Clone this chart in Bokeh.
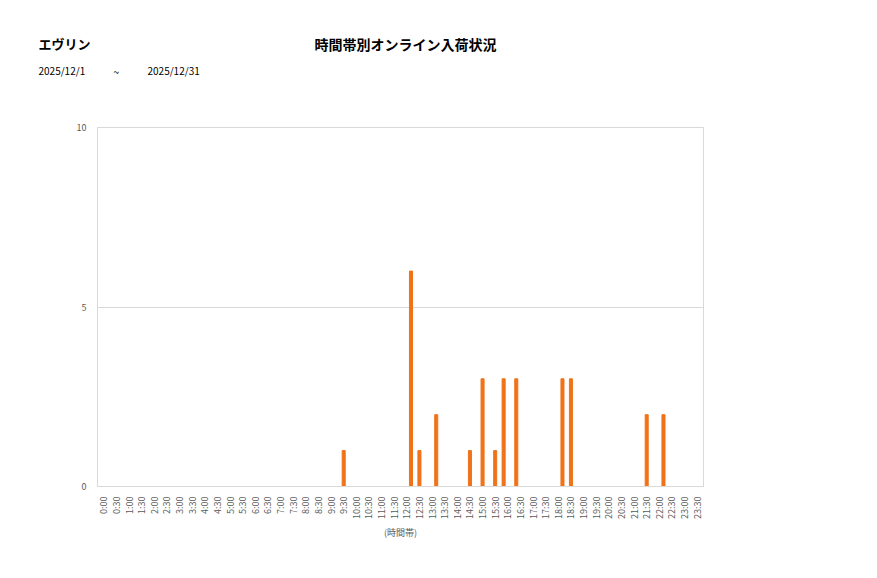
from bokeh.plotting import figure
from bokeh.models import ColumnDataSource, FactorRange, Range1d, FixedTicker
from bokeh.layouts import column
from bokeh.core.properties import value
from bokeh.transform import dodge
from bokeh.embed import file_html
from bokeh.resources import INLINE
import math

# ---- data ----
time_slots = [f"{h}:{m:02d}" for h in range(24) for m in (0, 30)]
series_a = [0] * 48
series_b = [0] * 48
series_c = [0] * 48
# values
vals_a = {"16:00": 3, "16:30": 3}
vals_b = {"9:30": 1, "12:30": 1, "14:30": 1, "15:00": 3, "15:30": 1, "18:30": 3, "21:30": 2}
vals_c = {"12:00": 6, "13:00": 2, "18:00": 3, "22:00": 2}
for k, v in vals_a.items():
    series_a[time_slots.index(k)] = v
for k, v in vals_b.items():
    series_b[time_slots.index(k)] = v
for k, v in vals_c.items():
    series_c[time_slots.index(k)] = v
y_ticks = [0, 5, 10]

title_left = "エヴリン"
title_center = "時間帯別オンライン入荷状況"
date_from = "2025/12/1"
date_sep = "~"
date_to = "2025/12/31"
x_label = "(時間帯)"

JP = "Noto Sans CJK JP"
BAR = "#f07219"
GRID = "#d9d9d9"
TXT = "#595959"

W = 860
HEAD = 100

# ---- header with titles ----
head = figure(width=W, height=HEAD, output_backend="svg", toolbar_location=None,
              x_range=Range1d(0, W), y_range=Range1d(HEAD, 0),
              min_border=0, min_border_left=0, min_border_right=0,
              min_border_top=0, min_border_bottom=0)
head.frame_align = False
head.axis.visible = False
head.grid.visible = False
head.outline_line_color = None


def htext(text, x, y, size, bold=False, align="left"):
    head.text(x=[x], y=[y], text=[text], text_font=value(JP), text_font_size=size,
              text_font_style="bold" if bold else "normal", text_align=align,
              text_baseline="middle", text_color="black")

htext(title_left, 38, 43, "13px", bold=True)
htext(title_center, 405, 43, "14px", bold=True, align="center")
htext(date_from, 38, 70, "10px")
htext(date_sep, 113, 71, "10px")
htext(date_to, 147, 70, "10px")

# ---- chart ----
src = ColumnDataSource(dict(x=time_slots, a=series_a, b=series_b, c=series_c))

p = figure(width=W, height=560 - HEAD, output_backend="svg", toolbar_location=None,
           x_range=FactorRange(*time_slots, range_padding=0), y_range=Range1d(0, 10),
           min_border_left=97, min_border_right=157, min_border_top=127 - HEAD,
           min_border_bottom=74)
p.frame_align = False

w = 0.24
p.vbar(x=dodge("x", -0.33, range=p.x_range), top="a", width=w, source=src, color=BAR)
p.vbar(x=dodge("x", 0.0, range=p.x_range), top="b", width=w, source=src, color=BAR)
p.vbar(x=dodge("x", 0.33, range=p.x_range), top="c", width=w, source=src, color=BAR)

p.outline_line_color = GRID
p.xgrid.grid_line_color = None
p.ygrid.grid_line_color = GRID
p.ygrid.ticker = FixedTicker(ticks=y_ticks)
p.yaxis.ticker = FixedTicker(ticks=y_ticks)

for ax in (p.xaxis[0], p.yaxis[0]):
    ax.axis_line_color = GRID
    ax.major_tick_line_color = None
    ax.minor_tick_line_color = None
    ax.major_label_text_font = JP
    ax.major_label_text_font_size = "9px"
    ax.major_label_text_color = TXT
p.yaxis.major_label_standoff = 5
p.xaxis.major_label_orientation = math.pi / 2
p.xaxis.major_label_standoff = 4
p.xaxis.axis_label = x_label
p.xaxis.axis_label_text_font = JP
p.xaxis.axis_label_text_font_size = "9px"
p.xaxis.axis_label_text_font_style = "normal"
p.xaxis.axis_label_text_color = TXT
p.xaxis.axis_label_standoff = 4

layout = column(head, p, spacing=0)
open("out.html", "w").write(file_html(layout, INLINE))
